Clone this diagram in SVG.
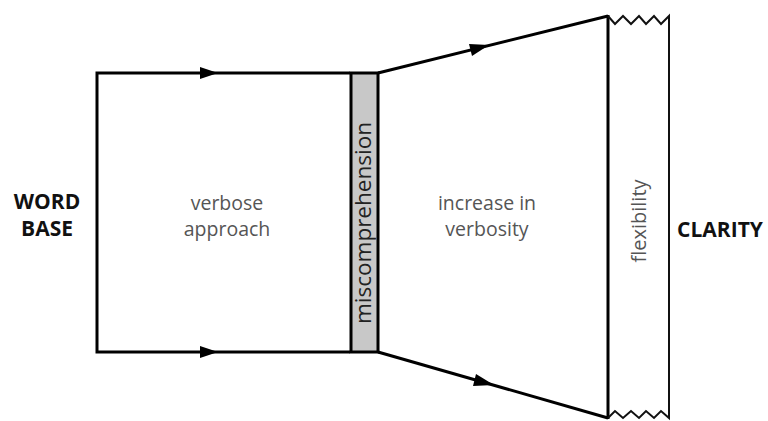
<svg xmlns="http://www.w3.org/2000/svg" width="768" height="421" viewBox="0 0 768 421">
<style>
.ln{fill:none;stroke:#000;stroke-width:3;stroke-linejoin:miter}
.thin{fill:none;stroke:#111;stroke-width:2}
.lbl{font-family:"Open Sans","Liberation Sans",sans-serif;font-size:19.5px;fill:#555;text-anchor:middle}
.bold{font-family:"Open Sans","Liberation Sans",sans-serif;font-size:21px;font-weight:bold;fill:#111;text-anchor:middle}
.arr{fill:#000}
</style>
<rect width="768" height="421" fill="#fff"/>
<g id="connectors">
<path class="ln" d="M350,73 H97 V352 H350"/>
<path class="ln" d="M378,73 L608,16"/>
<path class="ln" d="M378,352 L608,418"/>
<polygon class="arr" points="218,73 200,67 200,79"/>
<polygon class="arr" points="218,352 200,346 200,358"/>
<polygon class="arr" points="489,45 469,44 472,56"/>
<polygon class="arr" points="494,385 476,374 473,386"/>
</g>
<g id="miscomprehension">
<rect x="351" y="73" width="27" height="279" fill="#c8c8c8" stroke="#000" stroke-width="3"/>
<text transform="translate(371,223) rotate(-90)" class="lbl" style="fill:#222;font-size:22.5px">miscomprehension</text>
</g>
<g id="flexibility">
<path class="ln" d="M608,15 V419"/>
<path class="thin" d="M608,16 L615,24 L623,16 L631,24 L639,16 L646,24 L654,16 L661,24 L669,16 V418 L661,411 L654,418 L646,411 L639,418 L631,411 L623,418 L615,411 L608,418"/>
<text transform="translate(646,221) rotate(-90)" class="lbl" style="font-size:20px">flexibility</text>
</g>
<g id="word-base">
<text class="bold" x="47" y="209">WORD</text>
<text class="bold" x="47" y="236">BASE</text>
</g>
<g id="verbose-approach">
<text class="lbl" x="227" y="210">verbose</text>
<text class="lbl" x="227" y="236">approach</text>
</g>
<g id="increase-in-verbosity">
<text class="lbl" x="487" y="210">increase in</text>
<text class="lbl" x="487" y="236">verbosity</text>
</g>
<g id="clarity">
<text class="bold" x="720" y="237">CLARITY</text>
</g>
</svg>
